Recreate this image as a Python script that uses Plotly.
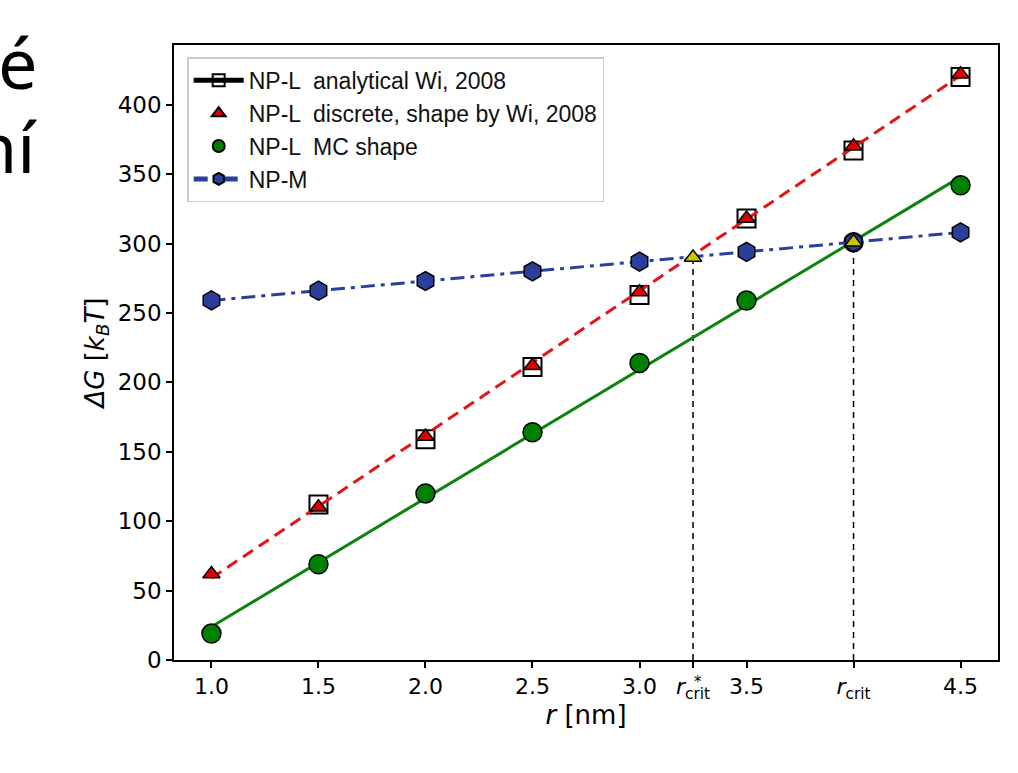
import numpy as np
import plotly.graph_objects as go

# ---- data ----
r = [1.0, 1.5, 2.0, 2.5, 3.0, 3.5, 4.0, 4.5]
r_analytical = [1.5, 2.0, 2.5, 3.0, 3.5, 4.0, 4.5]
dG_analytical = [112, 159, 211, 263, 318, 367, 420]
dG_discrete = [62, 110, 161, 212, 265, 318, 370, 422]
dG_mc = [19, 69, 120, 164, 214, 259, 301, 342]
dG_npm = [259, 266, 273, 280, 287, 294, 301, 308]
crit_r = [3.25, 4.0]
crit_dG = [290, 301]

tick_vals = [1.0, 1.5, 2.0, 2.5, 3.0, 3.25, 3.5, 4.0, 4.5]
tick_text = ["1.0", "1.5", "2.0", "2.5", "3.0", "<i>r</i><sub>crit</sub>", "3.5",
             "<i>r</i><sub>crit</sub>", "4.5"]
y_ticks = [0, 50, 100, 150, 200, 250, 300, 350, 400]

RED = "#e0141a"
GREEN = "#0b840b"
BLUE = "#2a3f9c"
YELLOW = "#c8c800"

# linear fits drawn as lines
xfit = np.array([min(r), max(r)])
p_disc = np.polyfit(r, dG_discrete, 1)
p_mc = np.polyfit(r, dG_mc, 1)

fig = go.Figure()

fig.add_trace(go.Scatter(x=r_analytical, y=dG_analytical, mode="markers", showlegend=False,
                         marker=dict(symbol="square-open", size=18, color="black",
                                     line=dict(width=2, color="black"))))
fig.add_trace(go.Scatter(x=xfit, y=np.polyval(p_disc, xfit), mode="lines", showlegend=False,
                         line=dict(color=RED, width=3, dash="12px,7px")))
fig.add_trace(go.Scatter(x=xfit, y=np.polyval(p_mc, xfit), mode="lines", showlegend=False,
                         line=dict(color=GREEN, width=3)))

fig.add_trace(go.Scatter(x=[None], y=[None], mode="lines+markers",
                         name="NP-L  analytical Wi, 2008",
                         line=dict(color="black", width=1.5),
                         marker=dict(symbol="square-open", size=16, color="black",
                                     line=dict(width=2, color="black"))))
fig.add_trace(go.Scatter(x=r, y=dG_discrete, mode="markers",
                         name="NP-L  discrete, shape by Wi, 2008",
                         marker=dict(symbol="triangle-up", size=15, color="#dd0000",
                                     line=dict(width=1.5, color="black"))))
fig.add_trace(go.Scatter(x=r, y=dG_mc, mode="markers", name="NP-L  MC shape",
                         marker=dict(symbol="circle", size=19, color="#008000",
                                     line=dict(width=1.5, color="black"))))
fig.add_trace(go.Scatter(x=r, y=dG_npm, mode="lines+markers", name="NP-M",
                         line=dict(color=BLUE, width=3, dash="14px,6px,4px,6px"),
                         marker=dict(symbol="hexagon", size=19, color=BLUE,
                                     line=dict(width=1.5, color="black"))))
fig.add_trace(go.Scatter(x=crit_r, y=crit_dG, mode="markers", showlegend=False,
                         marker=dict(symbol="triangle-up", size=15, color=YELLOW,
                                     line=dict(width=1.5, color="black"))))

for xc, yc in zip(crit_r, crit_dG):
    fig.add_shape(type="line", x0=xc, x1=xc, y0=0, y1=yc, xref="x", yref="y",
                  line=dict(color="black", width=1.5, dash="6px,5px"), layer="below")

# asterisk on r*_crit tick label
fig.add_annotation(x=crit_r[0], y=0, xref="x", yref="y", yshift=-22, xshift=5,
                   text="*", showarrow=False,
                   font=dict(family="DejaVu Sans", size=15, color="black"))

# stray slide text at left edge
fig.add_annotation(x=-138 / 824, y=1 + (45 - 100) / 615, xref="paper", yref="paper",
                   xanchor="right", yanchor="bottom", text="é", showarrow=False,
                   xshift=3, yshift=-12,
                   font=dict(family="Noto Sans", size=70, color="black"))
fig.add_annotation(x=-138 / 824, y=1 + (45 - 178) / 615, xref="paper", yref="paper",
                   xanchor="right", yanchor="bottom", text="ní", showarrow=False,
                   xshift=3, yshift=-18,
                   font=dict(family="Noto Sans", size=70, color="black"))

fig.update_layout(
    width=1018, height=773,
    margin=dict(l=174, r=20, t=45, b=113),
    paper_bgcolor="white", plot_bgcolor="white",
    font=dict(family="DejaVu Sans", size=22, color="black"),
    legend=dict(x=0.016, y=0.98, xanchor="left", yanchor="top",
                bgcolor="rgba(255,255,255,0.8)", bordercolor="#cccccc", borderwidth=1.5,
                font=dict(family="Liberation Sans", size=23, color="#111111"),
                itemsizing="constant", itemwidth=50),
    xaxis=dict(range=[0.825, 4.675], tickvals=tick_vals, ticktext=tick_text,
               showgrid=False, zeroline=False, showline=True, mirror=True,
               linecolor="black", linewidth=1.5, ticks="outside", ticklen=6,
               tickwidth=1.5, tickcolor="black",
               title=dict(text="<i>r</i> [nm]", standoff=4,
                          font=dict(family="DejaVu Sans", size=26))),
    yaxis=dict(range=[0, 443], tickvals=y_ticks,
               showgrid=False, zeroline=False, showline=True, mirror=True,
               linecolor="black", linewidth=1.5, ticks="outside", ticklen=6,
               tickwidth=1.5, tickcolor="black",
               tickfont=dict(size=23),
               title=dict(text="<i>ΔG</i> [<i>k</i><sub><i>B</i></sub><i>T</i>]", standoff=6,
                          font=dict(family="DejaVu Sans", size=26))),
)

fig.write_html("out.html", config={"displayModeBar": False},
               post_script="document.body.style.margin='0';")
